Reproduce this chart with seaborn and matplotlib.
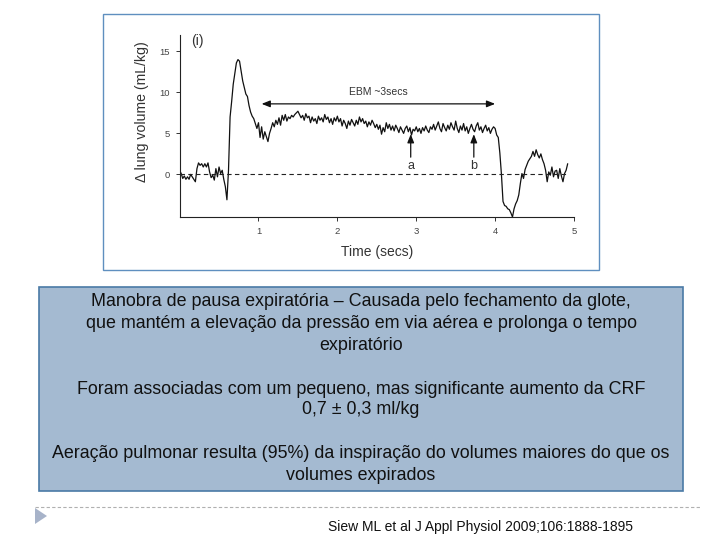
import matplotlib
matplotlib.use("Agg")
import matplotlib.pyplot as plt
from matplotlib.patches import Rectangle, Polygon
from matplotlib.lines import Line2D
import seaborn as sns
import pandas as pd

# ---------------- data ----------------
sample_dt = 0.02  # seconds between samples
volume = [
    # 0.00 - 0.60 baseline
    0.5, 0.1, -0.5, -0.2, -0.6, -0.3, -0.6, 0.0, -0.3, -0.6,
    -0.9, 0.7, 1.4, 1.1, 1.3, 0.9, 1.3, 0.9, 1.4, 0.3,
    -0.4, -0.1, -0.7, 0.7, -0.3, 0.9, 0.1, 0.5, -0.6, -1.5,
    -3.1,
    # 0.62 - 1.54 inspiration peak and recovery
    0.5, 7.0, 8.9, 11.0, 12.3, 13.6, 14.0, 13.8, 12.6, 11.4,
    10.6, 9.8, 9.5, 8.4, 7.6, 7.1, 6.8, 6.2, 5.6, 6.3,
    4.5, 5.8, 4.3, 5.2, 4.6, 4.0, 5.0, 5.6, 6.3, 5.8,
    6.6, 6.1, 6.9, 6.0, 7.2, 6.6, 7.3, 6.5, 7.0, 6.8,
    7.2, 7.0, 7.3, 7.5, 7.7, 7.3, 6.9,
    # 1.56 - 1.98
    7.2, 6.6, 7.4, 6.9, 7.1, 6.3, 7.0, 6.5, 6.8, 6.2, 7.1,
    6.6, 6.9, 6.4, 7.3, 6.7, 7.0, 6.3, 6.8, 6.1, 6.9, 6.5,
    # 2.00 - 2.48
    7.1, 6.4, 6.8, 5.9, 6.6, 6.2, 5.6, 6.5, 6.0, 6.7, 6.3, 5.9, 6.6,
    6.1, 7.0, 6.4, 6.8, 6.2, 6.5, 5.8, 6.4, 6.0, 6.6, 6.2, 5.7,
    # 2.50 - 2.98
    6.1, 5.5, 6.0, 4.9, 5.7, 5.2, 6.3, 5.6, 6.1, 5.4, 5.9, 5.3, 6.0,
    5.6, 5.1, 5.8, 5.4, 5.0, 5.6, 5.9, 5.2, 5.7, 4.8, 5.5, 5.3,
    # 3.00 - 3.48
    5.8, 5.2, 5.6, 5.0, 5.7, 5.3, 5.9, 5.4, 5.1, 5.8, 5.5, 6.1, 5.4,
    5.9, 6.4, 5.6, 5.2, 6.2, 5.7, 5.3, 6.0, 5.5, 6.3, 5.8, 5.4,
    # 3.50 - 3.98
    6.5, 5.6, 5.1, 5.9, 5.4, 6.2, 5.3, 5.8, 5.0, 5.6, 6.1, 5.5, 5.2,
    5.9, 6.3, 5.4, 5.8, 5.1, 5.6, 6.0, 5.3, 5.7, 5.0, 5.5, 5.8,
    # 4.00 - 4.92 release, expiration and recovery
    5.6, 4.8, 4.5, 2.6, 0.0, -3.3, -3.8, -3.9, -4.2, -4.3,
    -4.7, -5.2, -4.2, -3.6, -3.2, -2.5, -1.1, 0.1, -0.5, 0.6,
    1.1, 1.6, 1.9, 2.2, 2.8, 2.2, 3.0, 2.4, 2.0, 2.5,
    1.8, 1.3, 0.5, -0.9, 0.3, -0.1, 0.9, -0.3, 0.4, 0.5,
    -0.5, 0.7, -0.2, -0.9, 0.1, 0.5, 1.3,
]
time_s = [round(i * sample_dt, 3) for i in range(len(volume))]

x_ticks = [1, 2, 3, 4, 5]
y_ticks = [0, 5, 10, 15]
ebm_span = (1.04, 4.0)
ebm_level = 8.6
marker_times = {"a": 2.93, "b": 3.73}

text_lines_1 = ["Manobra de pausa expiratória – Causada pelo fechamento da glote,",
                "que mantém a elevação da pressão em via aérea e prolonga o tempo",
                "expiratório"]
text_lines_2 = ["Foram associadas com um pequeno, mas significante aumento da CRF",
                "0,7 ± 0,3 ml/kg"]
text_lines_3 = ["Aeração pulmonar resulta (95%) da inspiração do volumes maiores do que os",
                "volumes expirados"]
citation = "Siew ML et al J Appl Physiol 2009;106:1888-1895"

df = pd.DataFrame({"time": time_s, "volume": volume})

# ---------------- figure ----------------
sns.set_style("ticks")
plt.rcParams["font.family"] = ["Liberation Sans", "DejaVu Sans"]

W, H = 720, 540
fig = plt.figure(figsize=(7.2, 5.4), dpi=100)
fig.patch.set_facecolor("white")

def fx(px):
    return px / W

def fy(py):
    return 1 - py / H

# picture frame
fig.patches.append(Rectangle((fx(103), fy(270)), fx(599) - fx(103), fy(14) - fy(270),
                             transform=fig.transFigure, facecolor="white",
                             edgecolor="#5f8fbf", lw=1.0, zorder=-10))

# axes
ax = fig.add_axes([fx(179.6), fy(217), fx(574) - fx(179.6), fy(35) - fy(217)])
ax.set_facecolor("none")
ax.set_zorder(5)
sns.lineplot(data=df, x="time", y="volume", ax=ax, color="#111111", lw=0.9)
ax.plot([0, 4.93], [0, 0], ls=(0, (4, 3)), color="#222222", lw=0.8)
ax.set_xlim(0, 5.0)
ax.set_ylim(-5.2, 17.0)
ax.set_xticks(x_ticks)
ax.set_yticks(y_ticks)
ax.set_xticklabels([str(v) for v in x_ticks])
ax.set_yticklabels([str(v) for v in y_ticks])
ax.tick_params(axis="both", labelsize=6.8, labelcolor="#444444", length=3, width=0.7,
               color="#333333", pad=4)
for s in ["top", "right"]:
    ax.spines[s].set_visible(False)
for s in ["left", "bottom"]:
    ax.spines[s].set_linewidth(0.8)
    ax.spines[s].set_color("#222222")
ax.set_xlabel("Time (secs)", fontsize=10, color="#333333", labelpad=7)
ax.set_ylabel("Δ lung volume (mL/kg)", fontsize=10.2, color="#333333")
ax.yaxis.set_label_coords(-0.078, 0.577)

ax.text(0.14, 16.3, "(i)", fontsize=10, color="#333333", ha="left", va="center")

# EBM arrow
ax.annotate("", xy=(ebm_span[0], ebm_level), xytext=(ebm_span[1], ebm_level),
            arrowprops=dict(arrowstyle="<|-|>,head_length=0.5,head_width=0.2",
                            color="#111111", lw=0.9, shrinkA=0, shrinkB=0))
ax.text((ebm_span[0] + ebm_span[1]) / 2, 10.1, "EBM ~3secs", fontsize=7.5,
        color="#333333", ha="center", va="center")

# a / b markers
for lab, t in marker_times.items():
    ax.annotate("", xy=(t, 4.9), xytext=(t, 2.1),
                arrowprops=dict(arrowstyle="-|>,head_length=0.5,head_width=0.2",
                                color="#111111", lw=0.9, shrinkA=0, shrinkB=0))
    ax.text(t, 1.0, lab, fontsize=9, color="#333333", ha="center", va="center")

# text box
fig.patches.append(Rectangle((fx(39), fy(491)), fx(683) - fx(39), fy(287) - fy(491),
                             transform=fig.transFigure, facecolor="#a4bad1",
                             edgecolor="#4a7aa6", lw=1.2, zorder=-10))
cx = fx(361)
for lines, ys in [(text_lines_1, [301, 324, 345]), (text_lines_2, [389, 409]),
                  (text_lines_3, [453, 475])]:
    for line, yy in zip(lines, ys):
        fig.text(cx, fy(yy), line, fontsize=12.9, color="#111111", ha="center", va="center")

# dashed separator
fig.lines.append(Line2D([fx(35), fx(700)], [fy(507), fy(507)], transform=fig.transFigure,
                        color="#b0b0b0", lw=0.8, ls=(0, (3, 2))))
# triangle bullet
fig.patches.append(Polygon([(fx(35), fy(508)), (fx(35), fy(524)), (fx(47), fy(516))],
                           closed=True, transform=fig.transFigure,
                           facecolor="#a7b3c9", edgecolor="none"))
fig.text(fx(481), fy(527), citation, fontsize=10, color="#111111", ha="center", va="center")

fig.savefig("out.png", dpi=100, facecolor="white")
